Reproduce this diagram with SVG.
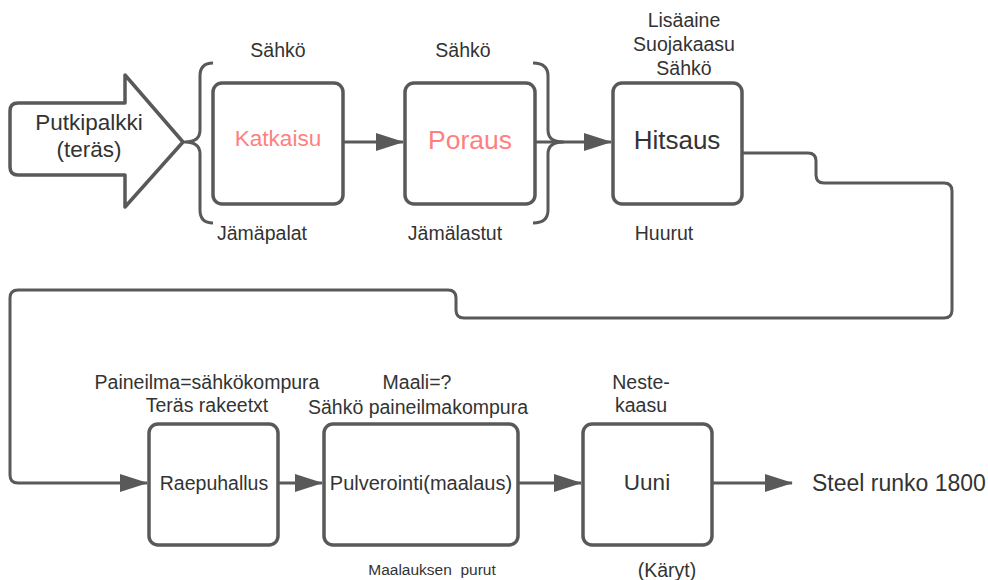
<svg xmlns="http://www.w3.org/2000/svg" width="988" height="580" viewBox="0 0 988 580">
<defs>
<style>
.box{fill:#fff;stroke:#595959;stroke-width:3.5}
.ln{fill:none;stroke:#595959;stroke-width:3;stroke-linejoin:round}
.t{font-family:"Liberation Sans",Arial,sans-serif;fill:#333;text-anchor:middle}
.s16{font-size:19.5px}
.red{fill:#ff7f7f}
</style>
<marker id="ah" viewBox="0 0 28 18" refX="27" refY="9" markerWidth="28" markerHeight="18" markerUnits="userSpaceOnUse" orient="auto">
<path d="M0,0 L28,9 L0,18 Z" fill="#595959"/>
</marker>
</defs>
<rect width="988" height="580" fill="#fff"/>

<g id="input">
<path d="M18,103 L125,103 L125,75 L183,142 L125,207 L125,175 L18,175 Q10,175 10,167 L10,111 Q10,103 18,103 Z" fill="#fff" stroke="#595959" stroke-width="3.5" stroke-linejoin="round"/>
<text class="t" x="89" y="130" font-size="22.5">Putkipalkki</text>
<text class="t" x="89" y="157" font-size="22.5">(teräs)</text>
</g>

<g id="braces">
<path class="ln" d="M213,63 Q200,63 200,76 L200,130 Q200,142 185,142 Q200,142 200,154 L200,210 Q200,223 213,223"/>
<path class="ln" d="M533,63 Q548,63 548,76 L548,130 Q548,142 563,142 Q548,142 548,154 L548,210 Q548,223 533,223"/>
</g>

<g id="katkaisu">
<rect class="box" x="213" y="83" width="130" height="121" rx="9"/>
<text class="t red" x="278" y="146" font-size="22.5">Katkaisu</text>
<text class="t s16" x="278" y="57">Sähkö</text>
<text class="t s16" x="262" y="240">Jämäpalat</text>
</g>

<g id="poraus">
<rect class="box" x="405" y="83" width="130" height="121" rx="9"/>
<text class="t red" x="470" y="149" font-size="26.5">Poraus</text>
<text class="t s16" x="463" y="57">Sähkö</text>
<text class="t s16" x="455" y="240">Jämälastut</text>
</g>

<g id="hitsaus">
<rect class="box" x="613" y="83" width="129" height="121" rx="9"/>
<text class="t" x="677" y="149" font-size="26" fill="#222">Hitsaus</text>
<text class="t s16" x="684" y="27">Lisäaine</text>
<text class="t s16" x="684" y="51">Suojakaasu</text>
<text class="t s16" x="684" y="75">Sähkö</text>
<text class="t s16" x="664" y="240">Huurut</text>
</g>

<g id="raepuhallus">
<rect class="box" x="149" y="424" width="129" height="121" rx="9"/>
<text class="t" x="214" y="490" font-size="19.5">Raepuhallus</text>
<text class="t s16" x="207" y="389">Paineilma=sähkökompura</text>
<text class="t s16" x="207" y="412">Teräs rakeetxt</text>
</g>

<g id="pulverointi">
<rect class="box" x="324" y="424" width="194" height="121" rx="9"/>
<text class="t" x="421" y="490" font-size="20">Pulverointi(maalaus)</text>
<text class="t s16" x="417" y="389">Maali=?</text>
<text class="t s16" x="418" y="414">Sähkö paineilmakompura</text>
<text class="t" x="432" y="575" font-size="15.5" style="white-space:pre">Maalauksen  purut</text>
</g>

<g id="uuni">
<rect class="box" x="583" y="424" width="129" height="121" rx="9"/>
<text class="t" x="647" y="490" font-size="22.5">Uuni</text>
<text class="t s16" x="641" y="389">Neste-</text>
<text class="t s16" x="641" y="412">kaasu</text>
<text class="t s16" x="667" y="577">(Käryt)</text>
</g>

<g id="output">
<text x="812" y="491" font-family="'Liberation Sans',Arial,sans-serif" font-size="23" fill="#333">Steel runko 1800</text>
</g>

<g id="connectors">
<path class="ln" d="M343,142 L403,142" marker-end="url(#ah)"/>
<path class="ln" d="M535,142 L611,142" marker-end="url(#ah)"/>
<path class="ln" d="M742,153 L808,153 Q816,153 816,161 L816,175 Q816,183 824,183 L944,183 Q952,183 952,191 L952,310 Q952,318 944,318 L464,318 Q456,318 456,310 L456,298 Q456,290 448,290 L18,290 Q10,290 10,298 L10,475 Q10,483 18,483 L147,483" marker-end="url(#ah)"/>
<path class="ln" d="M278,483 L322,483" marker-end="url(#ah)"/>
<path class="ln" d="M518,483 L581,483" marker-end="url(#ah)"/>
<path class="ln" d="M712,483 L792,483" marker-end="url(#ah)"/>
</g>
</svg>
